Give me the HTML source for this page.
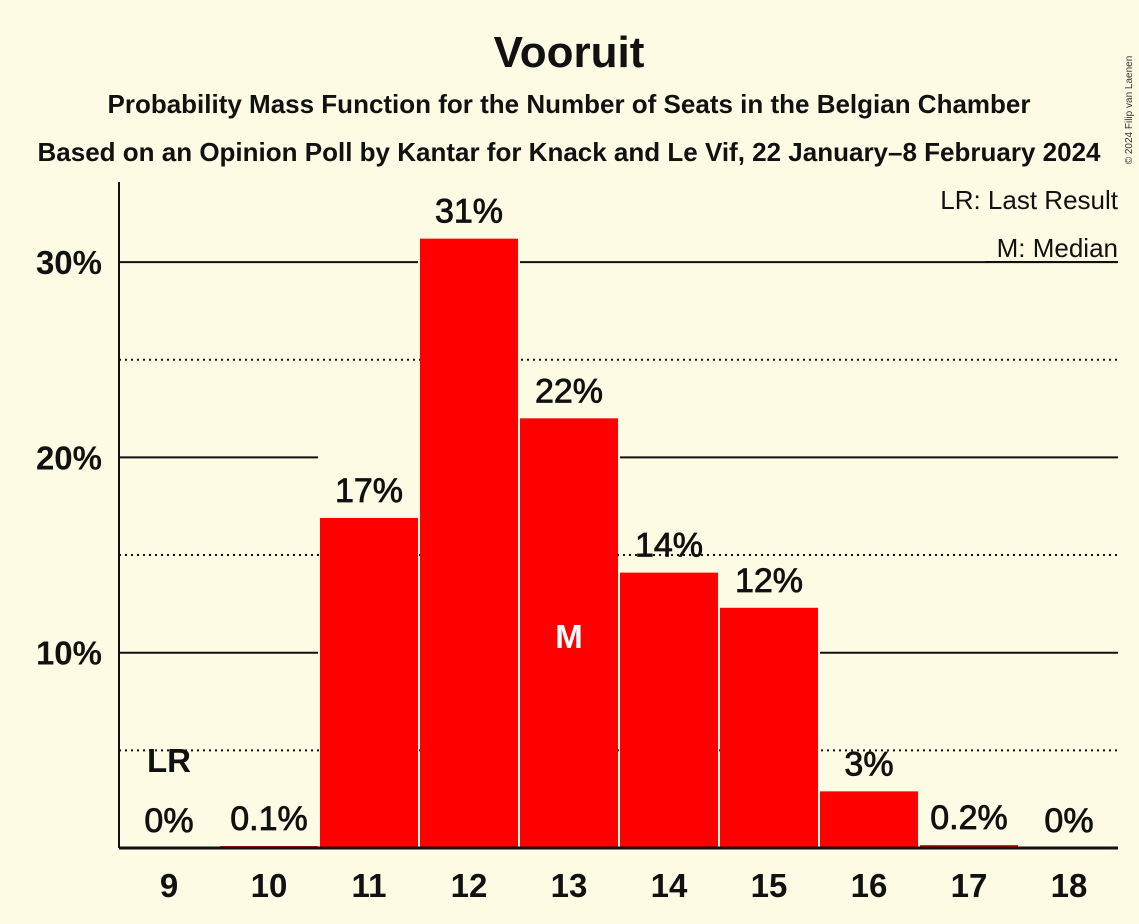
<!DOCTYPE html>
<html><head><meta charset="utf-8"><style>
body{margin:0;background:#fdfbe3;}
svg{display:block;font-family:"Liberation Sans",sans-serif;}
</style></head><body>
<svg id="c" width="1139" height="924">
<rect width="1139" height="924" fill="#fdfbe3"/>
<text x="569" y="67" text-anchor="middle" font-size="44" font-weight="bold" fill="#111">Vooruit</text>
<text x="569" y="113" text-anchor="middle" font-size="26" font-weight="bold" fill="#111" textLength="923" lengthAdjust="spacingAndGlyphs">Probability Mass Function for the Number of Seats in the Belgian Chamber</text>
<text x="569" y="161" text-anchor="middle" font-size="26" font-weight="bold" fill="#111" textLength="1063" lengthAdjust="spacingAndGlyphs">Based on an Opinion Poll by Kantar for Knack and Le Vif, 22 January–8 February 2024</text>
<text x="1132" y="110" font-size="10" fill="#333" transform="rotate(-90 1132 110)" text-anchor="middle">© 2024 Filip van Laenen</text>
<g id="grid"></g><g id="bars"></g><g id="labels"></g>
<text x="1118" y="209" text-anchor="end" font-size="26" fill="#111">LR: Last Result</text>
<text x="1118" y="257" text-anchor="end" font-size="26" fill="#111">M: Median</text>
<line x1="985" y1="262" x2="1118" y2="262" stroke="#111" stroke-width="2"/>
</svg>
<script>
const seats=[9,10,11,12,13,14,15,16,17,18];
const probs=[0,0.1,16.9,31.2,22.0,14.1,12.3,2.9,0.15,0];
const labels=["0%","0.1%","17%","31%","22%","14%","12%","3%","0.2%","0%"];
const solidTicks=[10,20,30];
const dottedTicks=[5,15,25];
const tickLabels=["10%","20%","30%"];
const lastResult=9, median=13;
const NS="http://www.w3.org/2000/svg";
const x0=119,x1=1118,y0=848,ppu=19.53;
const y=v=>y0-v*ppu;
const xc=s=>169+(s-9)*100;
function mk(t,a,p){const e=document.createElementNS(NS,t);for(const k in a)e.setAttribute(k,a[k]);document.getElementById(p).appendChild(e);return e;}
dottedTicks.forEach(t=>{
 const l=mk('line',{x1:x0,x2:x1,y1:y(t),y2:y(t),stroke:'#111','stroke-width':2,'stroke-dasharray':'2,4'},'grid');
 
 
});
solidTicks.forEach((t,i)=>{
 const yy=y(t);let segs=[];let start=x0;
 seats.forEach((s,j)=>{if(y(probs[j])<yy+65){const bx=xc(s)-51;if(bx>start)segs.push([start,bx]);start=xc(s)+51;}});
 if(start<x1)segs.push([start,x1]);
 segs.forEach(sg=>{const l=mk('line',{x1:sg[0],x2:sg[1],y1:yy,y2:yy,stroke:'#111','stroke-width':2},'grid');
 
 });
 const tx=mk('text',{x:102,y:yy+12,'text-anchor':'end','font-size':33,'font-weight':'bold',fill:'#111'},'labels');tx.textContent=tickLabels[i];
 
 
});
seats.forEach((s,i)=>{
 const h=probs[i]*ppu;
 if(h>0){const r=mk('rect',{x:xc(s)-49,y:y0-h,width:98,height:h,fill:'#ff0000'},'bars');
 
 }
 const t=mk('text',{x:xc(s),y:y(probs[i])-16,'text-anchor':'middle','font-size':34,fill:'#111',stroke:'#111','stroke-width':0.8},'labels');t.textContent=labels[i];
 
 
 const xl=mk('text',{x:xc(s),y:897,'text-anchor':'middle','font-size':33,'font-weight':'bold',fill:'#111'},'labels');xl.textContent=s;
 
 
 if(s===lastResult){const lr=mk('text',{x:xc(s),y:y(probs[i])-76,'text-anchor':'middle','font-size':33,'font-weight':'bold',fill:'#111'},'labels');lr.textContent='LR';
 
 }
 if(s===median){const m=mk('text',{x:xc(s),y:648,'text-anchor':'middle','font-size':33,'font-weight':'bold',fill:'#fff'},'labels');m.textContent='M';
 
 }
});
const ax=mk('line',{x1:x0,x2:x0,y1:182,y2:y0,stroke:'#111','stroke-width':2},'labels');


const bx=mk('line',{x1:x0,x2:x1,y1:y0,y2:y0,stroke:'#111','stroke-width':3},'labels');


</script>
</body></html>
